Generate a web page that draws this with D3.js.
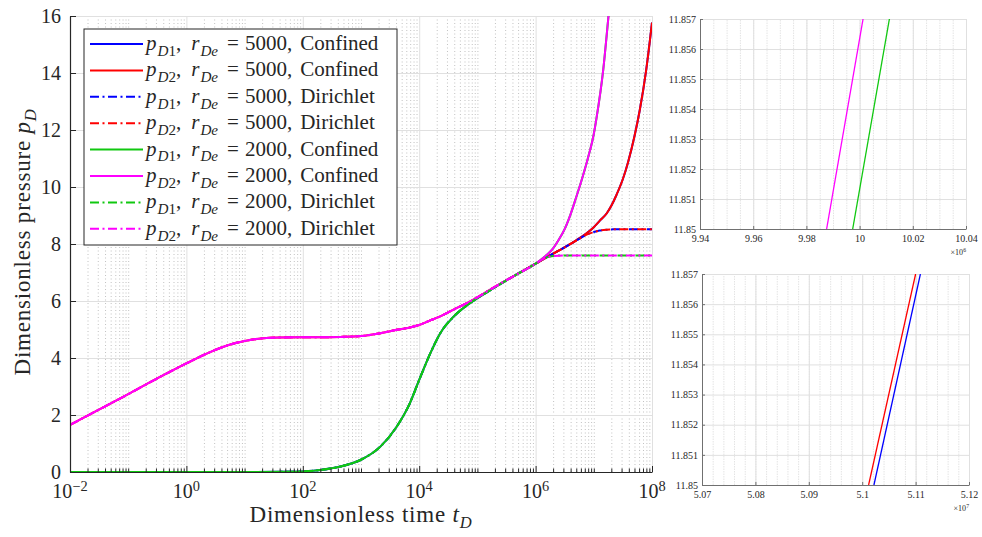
<!DOCTYPE html>
<html>
<head>
<meta charset="utf-8">
<script src="https://cdn.jsdelivr.net/npm/d3@7"></script>
<style>
  body { margin: 0; background: #fff; }
  svg text { font-family: "Liberation Serif", "DejaVu Serif", serif; fill: #262626; }
</style>
</head>
<body>
<script>
'use strict';

// ---- data ----
// early time, same for both outer radii
const tEarly = [1e-2, 2.5e-2, 1e-1, 3.2e-1, 1, 2.5, 6.3, 16, 40, 100, 200, 440, 1000, 2150, 4100,
  6900, 1e4, 1.55e4, 2.3e4, 3.9e4, 7.4e4, 1.86e5, 4e5, 1e6];
const pD1Early = [0, 0, 0, 0, 0, 0, 0, 0, 0.005, 0.02, 0.07, 0.19, 0.43, 0.89, 1.59,
  2.41, 3.23, 4.16, 4.87, 5.45, 5.92, 6.44, 6.85, 7.31];
const pD2Early = [1.65, 2.08, 2.73, 3.29, 3.81, 4.20, 4.50, 4.67, 4.72, 4.73, 4.73, 4.74, 4.77, 4.87, 4.99,
  5.07, 5.16, 5.32, 5.46, 5.70, 5.98, 6.46, 6.85, 7.31];

// late time, r_De = 5000
const tLate5000 = [1.41e6, 2e6, 3.2e6, 5e6, 7.1e6, 1e7, 1.26e7, 1.66e7, 2e7, 2.45e7, 3.16e7, 3.89e7,
  5e7, 6.17e7, 7.94e7, 1e8];
const p5000Confined = [7.49, 7.66, 7.89, 8.13, 8.34, 8.59, 8.81, 9.07, 9.34, 9.72, 10.28, 10.88,
  11.78, 12.70, 14.10, 15.77];
const p5000Dirichlet = [7.49, 7.66, 7.89, 8.12, 8.30, 8.42, 8.47, 8.50, 8.51, 8.52, 8.52, 8.52,
  8.52, 8.52, 8.52, 8.52];

// late time, r_De = 2000
const tLate2000Confined = [1.26e6, 1.58e6, 2e6, 2.5e6, 3.2e6, 4e6, 5e6, 6.3e6, 7.9e6, 1e7, 1.12e7,
  1.45e7, 1.78e7, 2.2e7];
const p2000Confined = [7.46, 7.63, 7.85, 8.15, 8.55, 9.05, 9.65, 10.30, 11.00, 11.86, 12.45,
  14.10, 15.95, 17.90];
const tLate2000Dirichlet = [1.26e6, 1.58e6, 2e6, 3.2e6, 1e7, 1e8];
const p2000Dirichlet = [7.44, 7.53, 7.58, 7.60, 7.60, 7.60];

// legend text
const legendWell = ['1', '2', '1', '2', '1', '2', '1', '2'];
const legendRadius = ['5000', '5000', '5000', '5000', '2000', '2000', '2000', '2000'];
const legendBoundary = ['Confined', 'Confined', 'Dirichlet', 'Dirichlet', 'Confined', 'Confined', 'Dirichlet', 'Dirichlet'];

// main axes ticks
const xTickExp = [-2, 0, 2, 4, 6, 8];
const yTicks = [0, 2, 4, 6, 8, 10, 12, 14, 16];

// zoomed insets (top: x in 1e6, bottom: x in 1e7)
const insetP = [11.85, 11.857];
const insetTopPD2 = [9.9876, 10.0013];
const insetTopPD1 = [9.9974, 10.0112];
const insetBotPD2 = [5.1012, 5.1100];
const insetBotPD1 = [5.1022, 5.1109];
const insetTopXTicks = [9.94, 9.96, 9.98, 10, 10.02, 10.04];
const insetBotXTicks = [5.07, 5.08, 5.09, 5.1, 5.11, 5.12];
const insetYTicks = [11.85, 11.851, 11.852, 11.853, 11.854, 11.855, 11.856, 11.857];

// ---- drawing ----
const BLUE = '#0000ff', RED = '#ff0000', GREEN = '#10c810', MAGENTA = '#ff00ff';
const DASHDOT = '9,3.5,2,3.5';
const AXIS = '#262626';

const svg = d3.select('body').append('svg')
  .attr('width', 982)
  .attr('height', 537);

// write text with italic / sub / superscript pieces: [text, flags, dx]
function richText(sel, parts, size, supRaise = 0.42) {
  let shift = 0;
  parts.forEach(([txt, f = '', dx = 0]) => {
    const ts = sel.append('tspan').text(txt);
    const target = f.includes('_') ? 0.28 * size : f.includes('^') ? -supRaise * size : 0;
    ts.attr('dy', target - shift);
    if (dx) ts.attr('dx', dx);
    shift = target;
    if (f.includes('_') || f.includes('^')) ts.style('font-size', (0.72 * size) + 'px');
    if (f.includes('i')) ts.style('font-style', 'italic');
  });
  return sel;
}

function styleGrid(g, color, dash) {
  g.select('.domain').remove();
  g.selectAll('.tick line')
    .attr('stroke', color)
    .attr('stroke-width', 1)
    .attr('stroke-dasharray', dash);
}

// ---- main plot ----
const main = { left: 70, right: 652, top: 16, bottom: 472 };
const x = d3.scaleLog().domain([1e-2, 1e8]).range([main.left, main.right]);
const y = d3.scaleLinear().domain([0, 16]).range([main.bottom, main.top]);
const H = main.bottom - main.top, W = main.right - main.left;

const majorT = xTickExp.map(e => Math.pow(10, e));
const minorT = [];
for (let e = -2; e < 8; e++) {
  for (let m = (e % 2 === 0 ? 2 : 1); m <= 9; m++) minorT.push(m * Math.pow(10, e));
}

// grid
svg.append('g')
  .attr('transform', `translate(0,${main.bottom})`)
  .call(d3.axisBottom(x).tickValues(minorT).tickSize(-H).tickFormat(''))
  .call(g => styleGrid(g, '#c2c2c2', '1,2.5'));
svg.append('g')
  .attr('transform', `translate(0,${main.bottom})`)
  .call(d3.axisBottom(x).tickValues(majorT).tickSize(-H).tickFormat(''))
  .call(g => styleGrid(g, '#e0e0e0', null));
svg.append('g')
  .attr('transform', `translate(${main.left},0)`)
  .call(d3.axisLeft(y).tickValues(yTicks).tickSize(-W).tickFormat(''))
  .call(g => styleGrid(g, '#e0e0e0', null));

// curves
svg.append('clipPath').attr('id', 'clipMain')
  .append('rect')
  .attr('x', main.left).attr('y', main.top)
  .attr('width', W).attr('height', H);

const series = [
  { early: pD1Early, lateT: tLate5000, lateP: p5000Confined, color: BLUE, dash: null },
  { early: pD2Early, lateT: tLate5000, lateP: p5000Confined, color: RED, dash: null },
  { early: pD1Early, lateT: tLate5000, lateP: p5000Dirichlet, color: BLUE, dash: DASHDOT },
  { early: pD2Early, lateT: tLate5000, lateP: p5000Dirichlet, color: RED, dash: DASHDOT },
  { early: pD1Early, lateT: tLate2000Confined, lateP: p2000Confined, color: GREEN, dash: null },
  { early: pD2Early, lateT: tLate2000Confined, lateP: p2000Confined, color: MAGENTA, dash: null },
  { early: pD1Early, lateT: tLate2000Dirichlet, lateP: p2000Dirichlet, color: GREEN, dash: DASHDOT },
  { early: pD2Early, lateT: tLate2000Dirichlet, lateP: p2000Dirichlet, color: MAGENTA, dash: DASHDOT }
];

const line = d3.line()
  .x(d => x(d[0]))
  .y(d => y(d[1]))
  .curve(d3.curveMonotoneX);

svg.append('g')
  .attr('clip-path', 'url(#clipMain)')
  .selectAll('path')
  .data(series)
  .join('path')
  .attr('d', s => line(tEarly.map((t, i) => [t, s.early[i]])
    .concat(s.lateT.map((t, i) => [t, s.lateP[i]]))))
  .attr('fill', 'none')
  .attr('stroke', s => s.color)
  .attr('stroke-width', 2)
  .attr('stroke-dasharray', s => s.dash);

// axes (ticks inward)
svg.append('g')
  .attr('transform', `translate(0,${main.bottom})`)
  .call(d3.axisBottom(x).tickValues(minorT).tickSize(-3.5).tickFormat(''))
  .call(g => g.select('.domain').remove())
  .call(g => g.selectAll('.tick line').attr('stroke', AXIS));
const xAxis = svg.append('g')
  .attr('transform', `translate(0,${main.bottom})`)
  .call(d3.axisBottom(x).tickValues(majorT).tickSizeInner(-6).tickSizeOuter(0).tickFormat(''));
xAxis.select('.domain').attr('stroke', AXIS).attr('stroke-width', 1.2);
xAxis.selectAll('.tick line').attr('stroke', AXIS);

const yAxis = svg.append('g')
  .attr('transform', `translate(${main.left},0)`)
  .call(d3.axisLeft(y).tickValues(yTicks).tickSizeInner(-6).tickSizeOuter(0).tickPadding(9));
yAxis.select('.domain').attr('stroke', AXIS).attr('stroke-width', 1.2);
yAxis.selectAll('.tick line').attr('stroke', AXIS);
yAxis.selectAll('.tick text')
  .style('font-size', '20px')
  .attr('dy', '0.3em')
  .attr('fill', AXIS);

// x tick labels 10^k
svg.append('g').selectAll('text')
  .data(xTickExp)
  .join('text')
  .attr('x', e => x(Math.pow(10, e)))
  .attr('y', 498)
  .attr('text-anchor', 'middle')
  .style('font-size', '20px')
  .each(function (e) {
    richText(d3.select(this), [['10'], [String(e).replace('-', '\u2212'), '^']], 20, 0.36);
  });

// axis labels
richText(svg.append('text')
  .attr('x', (main.left + main.right) / 2)
  .attr('y', 522)
  .attr('text-anchor', 'middle')
  .style('font-size', '23px')
  .style('letter-spacing', '0.8px'),
  [['Dimensionless time '], ['t', 'i'], ['D', 'i_']], 23);

richText(svg.append('text')
  .attr('transform', `translate(30,${(main.top + main.bottom) / 2 - 2}) rotate(-90)`)
  .attr('text-anchor', 'middle')
  .style('font-size', '23px')
  .style('letter-spacing', '0.8px'),
  [['Dimensionless pressure '], ['p', 'i'], ['D', 'i_']], 23);

// legend
const legend = svg.append('g').attr('transform', 'translate(84,29)');
legend.append('rect')
  .attr('width', 313)
  .attr('height', 216)
  .attr('fill', '#fff')
  .attr('stroke', AXIS)
  .attr('stroke-width', 1);
const rows = legend.selectAll('g.row')
  .data(series)
  .join('g')
  .attr('class', 'row')
  .attr('transform', (d, i) => `translate(0,${15 + i * 26.4})`);
rows.append('line')
  .attr('x1', 6).attr('x2', 59)
  .attr('stroke', s => s.color)
  .attr('stroke-width', 2)
  .attr('stroke-dasharray', s => s.dash);
rows.append('text')
  .attr('x', 62)
  .attr('y', 6)
  .style('font-size', '21px')
  .each(function (s, i) {
    richText(d3.select(this), [
      ['p', 'i'], ['D', 'i_', 1], [legendWell[i], '_'], [','],
      ['r', 'i', 10], ['De', 'i_', 1], ['=', '', 9],
      [legendRadius[i] + ',', '', 6], [legendBoundary[i], '', 8]
    ], 21);
  });

// ---- zoomed insets ----
function drawInset(box, xDomain, xTicks, minorStep, exponent, lines) {
  const xs = d3.scaleLinear().domain(xDomain).range([box.left, box.right]);
  const ys = d3.scaleLinear().domain(insetP).range([box.bottom, box.top]);
  const h = box.bottom - box.top, w = box.right - box.left;
  const minor = d3.range(xDomain[0], xDomain[1] + minorStep / 2, minorStep);

  svg.append('g')
    .attr('transform', `translate(0,${box.bottom})`)
    .call(d3.axisBottom(xs).tickValues(minor).tickSize(-h).tickFormat(''))
    .call(g => styleGrid(g, '#e4e4e4', '1.5,1'));
  svg.append('g')
    .attr('transform', `translate(0,${box.bottom})`)
    .call(d3.axisBottom(xs).tickValues(xTicks).tickSize(-h).tickFormat(''))
    .call(g => styleGrid(g, '#e0e0e0', null));
  svg.append('g')
    .attr('transform', `translate(${box.left},0)`)
    .call(d3.axisLeft(ys).tickValues(insetYTicks).tickSize(-w).tickFormat(''))
    .call(g => styleGrid(g, '#e0e0e0', null));

  const clipId = 'clip' + Math.round(box.top);
  svg.append('clipPath').attr('id', clipId)
    .append('rect').attr('x', box.left).attr('y', box.top).attr('width', w).attr('height', h);
  const g = svg.append('g').attr('clip-path', `url(#${clipId})`);
  lines.forEach(l => {
    g.append('path')
      .datum(l.t.map((t, i) => [t, insetP[i]]))
      .attr('d', d3.line().x(d => xs(d[0])).y(d => ys(d[1])))
      .attr('fill', 'none')
      .attr('stroke', l.color)
      .attr('stroke-width', 1.3);
  });

  const ax = svg.append('g')
    .attr('transform', `translate(0,${box.bottom})`)
    .call(d3.axisBottom(xs).tickValues(xTicks).tickSizeInner(-3).tickSizeOuter(0).tickPadding(6)
      .tickFormat(d3.format('~g')));
  const ay = svg.append('g')
    .attr('transform', `translate(${box.left},0)`)
    .call(d3.axisLeft(ys).tickValues(insetYTicks).tickSizeInner(-3).tickSizeOuter(0).tickPadding(4)
      .tickFormat(d3.format('~g')));
  [ax, ay].forEach(a => {
    a.select('.domain').attr('stroke', '#707070').attr('stroke-width', 1);
    a.selectAll('.tick line').attr('stroke', '#707070');
    a.selectAll('.tick text')
      .style('font-size', '10px')
      .attr('fill', AXIS);
  });

  richText(svg.append('text')
    .attr('x', box.right)
    .attr('y', box.bottom + 26)
    .attr('text-anchor', 'end')
    .style('font-size', '8px'),
    [['\u00d710'], [String(exponent), '^']], 8);
}

drawInset({ left: 700, right: 966, top: 19, bottom: 229 }, [9.94, 10.04], insetTopXTicks, 0.005, 6, [
  { t: insetTopPD2, color: MAGENTA },
  { t: insetTopPD1, color: GREEN }
]);
drawInset({ left: 702, right: 969, top: 274, bottom: 485 }, [5.07, 5.12], insetBotXTicks, 0.002, 7, [
  { t: insetBotPD2, color: RED },
  { t: insetBotPD1, color: BLUE }
]);
</script>
</body>
</html>
